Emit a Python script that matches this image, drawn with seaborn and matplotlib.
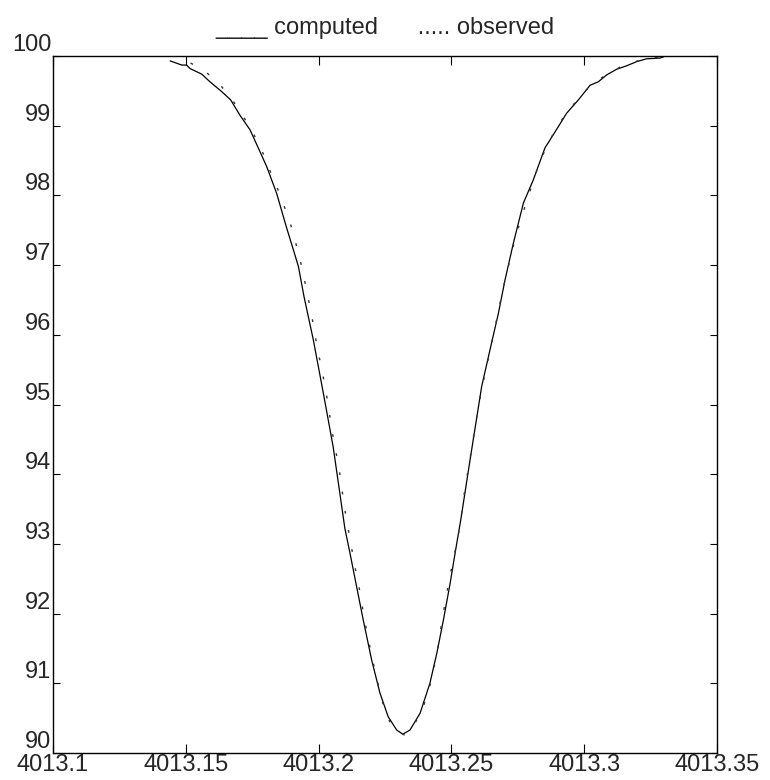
import numpy as np
import pandas as pd
import matplotlib
matplotlib.use("Agg")
import matplotlib.pyplot as plt
import seaborn as sns

# datos
computed_x = [4013.1441, 4013.1485, 4013.1503, 4013.1516, 4013.1560, 4013.1591, 4013.1635,
              4013.1669, 4013.1704, 4013.1742, 4013.1779, 4013.1805, 4013.1842, 4013.1880,
              4013.1905, 4013.1924, 4013.1945, 4013.1980, 4013.2018, 4013.2055, 4013.2099,
              4013.2118, 4013.2143, 4013.2168, 4013.2200, 4013.2231, 4013.2262, 4013.2294,
              4013.2317, 4013.2344, 4013.2382, 4013.2419, 4013.2445, 4013.2470, 4013.2495,
              4013.2514, 4013.2535, 4013.2570, 4013.2614, 4013.2645, 4013.2677, 4013.2702,
              4013.2733, 4013.2771, 4013.2808, 4013.2852, 4013.2890, 4013.2934, 4013.2978,
              4013.3022, 4013.3053, 4013.3085, 4013.3122, 4013.3160, 4013.3198, 4013.3235,
              4013.3285, 4013.3300]
computed_y = [99.93, 99.87, 99.87, 99.82, 99.74, 99.63, 99.49,
              99.37, 99.15, 98.94, 98.63, 98.41, 98.03, 97.53,
              97.22, 96.98, 96.55, 95.93, 95.16, 94.39, 93.22,
              92.87, 92.39, 91.91, 91.33, 90.86, 90.52, 90.33,
              90.27, 90.33, 90.57, 91.00, 91.43, 91.91, 92.43,
              92.87, 93.34, 94.20, 95.26, 95.78, 96.31, 96.79,
              97.31, 97.89, 98.22, 98.68, 98.91, 99.18, 99.37,
              99.58, 99.63, 99.73, 99.81, 99.86, 99.92, 99.96,
              99.97, 99.99]

observed_x = [4013.1518, 4013.1579, 4013.1631, 4013.1677, 4013.1717, 4013.1754, 4013.1786,
              4013.1813, 4013.1842, 4013.1867, 4013.1892, 4013.1911, 4013.1930, 4013.1945,
              4013.1959, 4013.1974, 4013.1986, 4013.1999, 4013.2014, 4013.2027, 4013.2039,
              4013.2049, 4013.2062, 4013.2076, 4013.2086, 4013.2096, 4013.2107, 4013.2121,
              4013.2133, 4013.2148, 4013.2160, 4013.2172, 4013.2185, 4013.2200, 4013.2215,
              4013.2234, 4013.2250, 4013.2268, 4013.2288, 4013.2322, 4013.2357, 4013.2391,
              4013.2420, 4013.2445, 4013.2467, 4013.2492, 4013.2521, 4013.2535, 4013.2543,
              4013.2554, 4013.2566, 4013.2578, 4013.2589, 4013.2601, 4013.2614, 4013.2629,
              4013.2645, 4013.2660, 4013.2675, 4013.2688, 4013.2704, 4013.2722, 4013.2739,
              4013.2761, 4013.2783, 4013.2805, 4013.2830, 4013.2858, 4013.2890, 4013.2930,
              4013.2974, 4013.3022, 4013.3082, 4013.3145, 4013.3210, 4013.3297]
observed_y = [99.90, 99.76, 99.58, 99.36, 99.13, 98.89, 98.65,
              98.39, 98.13, 97.88, 97.62, 97.36, 97.08, 96.82,
              96.56, 96.28, 96.01, 95.74, 95.47, 95.20, 94.92,
              94.65, 94.38, 94.11, 93.84, 93.56, 93.30, 93.02,
              92.74, 92.47, 92.21, 91.93, 91.67, 91.40, 91.13,
              90.84, 90.59, 90.45, 90.35, 90.26, 90.39, 90.62,
              90.98, 91.41, 91.96, 92.49, 93.03, 93.32, 93.59,
              93.86, 94.13, 94.41, 94.68, 94.95, 95.22, 95.48,
              95.76, 96.04, 96.30, 96.55, 96.82, 97.10, 97.37,
              97.65, 97.91, 98.17, 98.45, 98.70, 98.93, 99.17,
              99.37, 99.57, 99.73, 99.86, 99.94, 99.99]

x_ticks = [4013.1, 4013.15, 4013.2, 4013.25, 4013.3, 4013.35]
x_labels = ["4013.1", "4013.15", "4013.2", "4013.25", "4013.3", "4013.35"]
y_ticks = [90, 91, 92, 93, 94, 95, 96, 97, 98, 99, 100]
titulo = "____ computed      ..... observed"

sns.set_style("white")
plt.rcParams['font.family'] = ['Liberation Sans', 'DejaVu Sans']

df_comp = pd.DataFrame({'x': computed_x, 'y': computed_y})
df_obs = pd.DataFrame({'x': observed_x, 'y': observed_y})

fig = plt.figure(figsize=(7.7, 7.8), dpi=100)
ax = fig.add_axes([0.0688, 0.0346, 0.8624, 0.8936])

sns.lineplot(data=df_comp, x='x', y='y', ax=ax, color='black', linewidth=0.9,
             estimator=None, sort=False)
sns.lineplot(data=df_obs, x='x', y='y', ax=ax, color='#333333', linewidth=1.0,
             estimator=None, sort=False, linestyle=(0, (2, 12)))

ax.set_xlim(4013.1, 4013.35)
ax.set_ylim(90, 100)
ax.set_xticks(x_ticks)
ax.set_xticklabels(x_labels)
ax.set_yticks(y_ticks)
ax.set_yticklabels([str(v) for v in y_ticks])
ax.set_xlabel('')
ax.set_ylabel('')

for s in ax.spines.values():
    s.set_color('black')
    s.set_linewidth(1.0)

ax.tick_params(axis='x', direction='in', length=6.5, width=0.8, color='black',
               top=True, bottom=True, labelsize=17, pad=1)
ax.tick_params(axis='y', direction='in', length=5, width=0.8, color='black',
               left=True, right=True, labelsize=17, pad=1)
for lab in ax.get_yticklabels():
    lab.set_verticalalignment('bottom')

ax.set_title(titulo, fontsize=17, pad=16)

fig.savefig('out.png', dpi=100)
